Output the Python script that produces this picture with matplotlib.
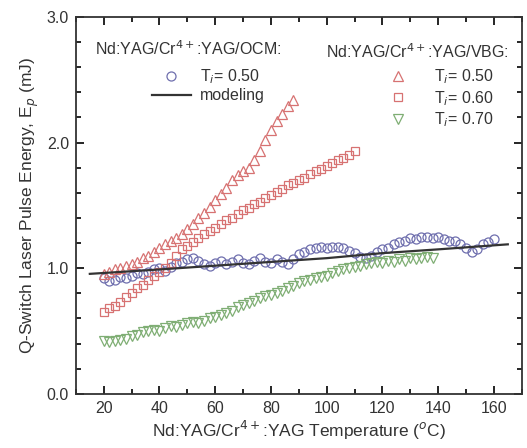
import numpy as np
import matplotlib.pyplot as plt
from matplotlib.lines import Line2D
from matplotlib.ticker import MultipleLocator, FormatStrFormatter

plt.rcParams['font.family'] = ['Liberation Sans', 'DejaVu Sans']

# OCM, T = 0.50 (circles)
t_ocm = list(range(20, 161, 2))
e_ocm = [0.92, 0.90, 0.91, 0.93, 0.92, 0.94, 0.96, 0.95, 0.97, 0.99,
         1.00, 0.98, 1.01, 1.04, 1.05, 1.07, 1.08, 1.06, 1.03, 1.02,
         1.04, 1.06, 1.03, 1.05, 1.07, 1.04, 1.03, 1.06, 1.08, 1.05,
         1.04, 1.07, 1.05, 1.03, 1.07, 1.11, 1.13, 1.15, 1.16, 1.17,
         1.16, 1.17, 1.17, 1.16, 1.14, 1.12, 1.09, 1.08, 1.10, 1.13,
         1.15, 1.16, 1.19, 1.21, 1.22, 1.24, 1.23, 1.25, 1.25, 1.24,
         1.25, 1.23, 1.22, 1.22, 1.19, 1.16, 1.13, 1.15, 1.19, 1.21,
         1.23]

# modeling curve
t_model = [15, 40, 60, 80, 100, 120, 140, 165]
e_model = [0.955, 0.99, 1.02, 1.05, 1.08, 1.12, 1.15, 1.19]

# VBG, T = 0.50 (up triangles)
t_v50 = list(range(20, 89, 2))
e_v50 = [0.95, 0.97, 0.99, 1.00, 1.02, 1.03, 1.05, 1.08, 1.10, 1.13,
         1.16, 1.19, 1.22, 1.24, 1.27, 1.31, 1.35, 1.40, 1.44, 1.49,
         1.54, 1.59, 1.64, 1.70, 1.74, 1.77, 1.80, 1.86, 1.93, 2.02,
         2.10, 2.17, 2.23, 2.29, 2.34]

# VBG, T = 0.60 (squares)
t_v60 = list(range(20, 111, 2))
e_v60 = [0.65, 0.68, 0.70, 0.73, 0.77, 0.80, 0.84, 0.87, 0.91, 0.94,
         0.97, 1.00, 1.04, 1.10, 1.15, 1.18, 1.21, 1.24, 1.27, 1.30,
         1.32, 1.35, 1.38, 1.40, 1.43, 1.46, 1.48, 1.51, 1.53, 1.56,
         1.58, 1.61, 1.63, 1.66, 1.68, 1.70, 1.72, 1.75, 1.77, 1.79,
         1.81, 1.84, 1.86, 1.88, 1.90, 1.93]

# VBG, T = 0.70 (down triangles)
t_v70 = list(range(20, 139, 2))
e_v70 = [0.42, 0.41, 0.42, 0.43, 0.44, 0.46, 0.47, 0.49, 0.50, 0.51,
         0.50, 0.52, 0.54, 0.53, 0.55, 0.56, 0.57, 0.56, 0.58, 0.60,
         0.61, 0.63, 0.64, 0.66, 0.69, 0.71, 0.72, 0.74, 0.76, 0.78,
         0.79, 0.80, 0.82, 0.84, 0.86, 0.88, 0.90, 0.91, 0.92, 0.93,
         0.94, 0.96, 0.98, 0.99, 1.00, 1.01, 1.02, 1.03, 1.04, 1.05,
         1.04, 1.06, 1.05, 1.07, 1.06, 1.08, 1.07, 1.08, 1.09, 1.08]

c_blue = '#6f6fae'
c_red = '#d77272'
c_green = '#7fae74'
c_txt = '#333333'
ms = 6.5
fs = 11.5

fig = plt.figure(figsize=(5.27, 4.48), dpi=100)
ax = fig.add_axes([0.144, 0.121, 0.846, 0.841])

ax.plot(t_model, e_model, color=c_txt, lw=1.6, zorder=3)
ax.plot(t_ocm, e_ocm, 'o', mfc='none', mec=c_blue, ms=ms, mew=0.9)
ax.plot(t_v50, e_v50, '^', mfc='none', mec=c_red, ms=ms, mew=0.9)
ax.plot(t_v60, e_v60, 's', mfc='none', mec=c_red, ms=ms - 0.7, mew=0.9)
ax.plot(t_v70, e_v70, 'v', mfc='none', mec=c_green, ms=ms, mew=0.9)

ax.set_xlim(10, 170)
ax.set_ylim(0, 3.0)
ax.xaxis.set_major_locator(MultipleLocator(20))
ax.xaxis.set_minor_locator(MultipleLocator(10))
ax.yaxis.set_major_locator(MultipleLocator(1.0))
ax.yaxis.set_minor_locator(MultipleLocator(0.2))
ax.yaxis.set_major_formatter(FormatStrFormatter('%.1f'))
ax.tick_params(which='both', direction='in', top=True, right=True,
               labelsize=11.5, labelcolor=c_txt, width=1.2)
ax.tick_params(which='major', length=6, pad=5)
ax.tick_params(which='minor', length=3.5)
for s in ax.spines.values():
    s.set_linewidth(1.3)
    s.set_color(c_txt)

ax.set_xlabel('Nd:YAG/Cr$^{4+}$:YAG Temperature ($^o$C)', fontsize=12.5, color=c_txt, labelpad=2)
ax.set_ylabel('Q-Switch Laser Pulse Energy, E$_p$ (mJ)', fontsize=12.5, color=c_txt, labelpad=4)

# legend blocks
ax.text(0.251, 0.915, 'Nd:YAG/Cr$^{4+}$:YAG/OCM:', transform=ax.transAxes,
        ha='center', va='center', fontsize=fs, color=c_txt)
ax.text(0.766, 0.907, 'Nd:YAG/Cr$^{4+}$:YAG/VBG:', transform=ax.transAxes,
        ha='center', va='center', fontsize=fs, color=c_txt)

h_left = [Line2D([], [], ls='none', marker='o', mfc='none', mec=c_blue, ms=ms, mew=0.9),
          Line2D([], [], color=c_txt, lw=1.6)]
leg1 = ax.legend(h_left, ['T$_i$= 0.50', 'modeling'], loc='upper left',
                 bbox_to_anchor=(0.170, 0.866), frameon=False, fontsize=fs,
                 handlelength=2.45, handletextpad=0.55, labelspacing=0.12,
                 borderpad=0, borderaxespad=0, labelcolor=c_txt)
ax.add_artist(leg1)

h_right = [Line2D([], [], ls='none', marker='^', mfc='none', mec=c_red, ms=ms, mew=0.9),
           Line2D([], [], ls='none', marker='s', mfc='none', mec=c_red, ms=ms - 0.7, mew=0.9),
           Line2D([], [], ls='none', marker='v', mfc='none', mec=c_green, ms=ms, mew=0.9)]
ax.legend(h_right, ['T$_i$= 0.50', 'T$_i$= 0.60', 'T$_i$= 0.70'], loc='upper left',
          bbox_to_anchor=(0.695, 0.866), frameon=False, fontsize=fs,
          handlelength=1.5, handletextpad=1.5, labelspacing=0.18,
          borderpad=0, borderaxespad=0, labelcolor=c_txt)

fig.savefig('out.png', dpi=100)
